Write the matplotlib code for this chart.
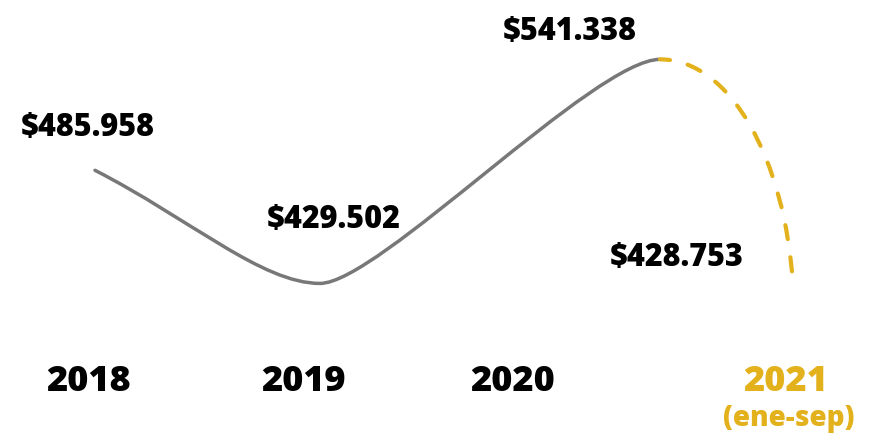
import matplotlib
matplotlib.use("Agg")
import matplotlib.pyplot as plt
from matplotlib.path import Path
from matplotlib.patches import PathPatch

# data
years = ["2018", "2019", "2020", "2021"]
sales = [485958, 429502, 541338, 428753]
value_labels = ["$485.958", "$429.502", "$541.338", "$428.753"]
partial_note = "(ene-sep)"

GRAY = "#787878"
GOLD = "#E2B11C"
FONT = ["Open Sans", "DejaVu Sans"]

# layout (x in pixel-like units of the canvas)
anchor_x = [95, 320, 660, 793]
label_x = [88, 303, 513, 786]
label_off = [(-7, 43), (14, 64), (-90, 28), (-116, 28)]

fig = plt.figure(figsize=(8.76, 4.35), dpi=100)
ax = fig.add_axes([0, 0, 1, 1])
ax.set_xlim(0, 876)
ax.set_ylim(354343, 571463)
ax.axis("off")

v18, v19, v20, v21 = sales
x18, x19, x20, x21 = anchor_x

# solid part 2018-2020, smoothed with bezier segments
solid = Path(
    [(x18, v18), (190, v18 - 0.43 * (v18 - v19)), (262, v19), (x19, v19),
     (378, v19), (595, v20), (x20, v20)],
    [Path.MOVETO, Path.CURVE4, Path.CURVE4, Path.CURVE4,
     Path.CURVE4, Path.CURVE4, Path.CURVE4],
)
ax.add_patch(PathPatch(solid, facecolor="none", edgecolor=GRAY, lw=2.5,
                       capstyle="round"))

# dashed part to 2021 (partial year)
dashed = Path(
    [(x20, v20), (730, v20), (785, v20 - 0.44 * (v20 - v21)), (x21, v21)],
    [Path.MOVETO, Path.CURVE4, Path.CURVE4, Path.CURVE4],
)
ax.add_patch(PathPatch(dashed, facecolor="none", edgecolor=GOLD, lw=3.0,
                       linestyle=(1, (3.4, 4.4)), capstyle="round"))

for x, v, txt, off in zip(anchor_x, sales, value_labels, label_off):
    ax.annotate(txt, (x, v), xytext=off, textcoords="offset pixels",
                ha="center", va="center", fontsize=22, fontweight="heavy",
                family=FONT, color="black")

for i, (x, yr) in enumerate(zip(label_x, years)):
    c = GOLD if i == len(years) - 1 else "black"
    ax.text(x, 0.122, yr, transform=ax.get_xaxis_transform(), ha="center",
            va="center", fontsize=26, fontweight="heavy", family=FONT, color=c)

ax.text(label_x[-1] + 3, 0.039, partial_note, transform=ax.get_xaxis_transform(),
        ha="center", va="center", fontsize=20, fontweight="heavy", family=FONT,
        color=GOLD)

fig.savefig("out.png", dpi=100)
